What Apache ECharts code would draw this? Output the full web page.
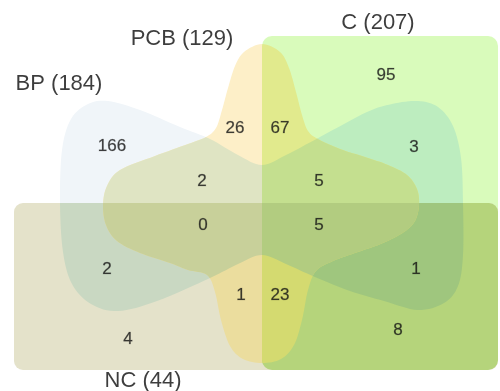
<!DOCTYPE html>
<html>
<head>
<meta charset="utf-8">
<script src="https://cdn.jsdelivr.net/npm/echarts@6/dist/echarts.min.js"></script>
<style>
  html, body { margin: 0; padding: 0; background: #ffffff; }
  #chart { width: 500px; height: 391px; }
</style>
</head>
<body>
<div id="chart"></div>
<script>
// Sets and their sizes
const setNames = ['BP', 'PCB', 'C', 'NC'];
const setTotals = [184, 129, 207, 44];

// Exclusive region counts, keyed by the sets a region belongs to
// (ordered singles -> pairs -> triples -> all four)
const regionKeys = ['BP', 'PCB', 'C', 'NC',
  'BP&PCB', 'BP&C', 'BP&NC', 'PCB&C', 'PCB&NC', 'C&NC',
  'BP&PCB&C', 'BP&PCB&NC', 'BP&C&NC', 'PCB&C&NC', 'BP&PCB&C&NC'];
const regionCounts = [166, 26, 95, 4, 2, 3, 2, 67, 1, 8, 5, 0, 1, 23, 5];

// ---- diagram layout (units of the hidden 500 x 391 axes) ----
const layout = {
  rects: {
    C:  { x0: 262, y0: 36,  x1: 498, y1: 370, r: 10 },
    NC: { x0: 14,  y0: 203, x1: 498, y1: 370, r: 9 }
  },
  // horizontal two-lobed outline
  BP: [[262,165],[238,155],[210,139],[180,127],[140,110],[108,101],[88,104],[71,119],[62,150],[60,203],
       [63,252],[72,284],[91,304],[118,311],[157,301],[210,278],[238,264],[262,255],[286,264],
       [315,277],[350,291],[384,301],[418,310],[444,303],[458,286],[463,255],[463,203],[461,158],
       [453,126],[438,107],[418,101],[392,104],[367,112],[320,137],[286,155]],
  // four-armed outline
  PCB: [[262,44],[280,52],[289,68],[296,92],[302,115],[308,131],[318,139],[340,149],[365,157],[388,165],
        [407,175],[417,189],[419,205],[415,221],[404,232],[383,243],[358,252],[333,261],[316,271],
        [308,290],[302,320],[294,345],[281,359],[262,363],[243,359],[230,346],[221,320],[215,292],
        [207,275],[188,270],[170,263],[140,253],[117,241],[106,225],[103,205],[107,186],[120,170],
        [155,156],[188,144],[206,137],[216,128],[222,110],[228,88],[235,66],[244,52]],
  labels: {
    'BP': [112,146], 'PCB': [235,128], 'C': [386,75], 'NC': [128,339],
    'BP&PCB': [202,181], 'BP&C': [414,147], 'BP&NC': [107,269], 'PCB&C': [280,128],
    'PCB&NC': [241,295], 'C&NC': [398,330], 'BP&PCB&C': [319,181], 'BP&PCB&NC': [203,225],
    'BP&C&NC': [416,269], 'PCB&C&NC': [280,295], 'BP&PCB&C&NC': [319,225]
  },
  titles: { BP: [59,84], PCB: [182,39], C: [378,23], NC: [143,381] }
};

// fill colour of every exclusive region
const regionFills = {
  'BP': '#f0f5f9', 'PCB': '#fdefc8', 'C': '#d9fbbb', 'NC': '#e4e2ca',
  'BP&PCB': '#dfe4c3', 'BP&C': '#bdedbf', 'BP&NC': '#c9d8c2', 'PCB&C': '#e1ea8d',
  'PCB&NC': '#ebdd9e', 'C&NC': '#b5d47b', 'BP&PCB&C': '#c4df8f', 'BP&PCB&NC': '#c8d09a',
  'BP&C&NC': '#9fc67e', 'PCB&C&NC': '#d4da70', 'BP&PCB&C&NC': '#b2cc80'
};

// closed Catmull-Rom spline through pixel points
function smoothClosed(pts, steps) {
  const out = [];
  const n = pts.length;
  for (let i = 0; i < n; i++) {
    const p0 = pts[(i - 1 + n) % n], p1 = pts[i], p2 = pts[(i + 1) % n], p3 = pts[(i + 2) % n];
    for (let s = 0; s < steps; s++) {
      const t = s / steps, t2 = t * t, t3 = t2 * t;
      const f = (a, b, c, d) => 0.5 * ((2 * b) + (-a + c) * t + (2 * a - 5 * b + 4 * c - d) * t2 + (-a + 3 * b - 3 * c + d) * t3);
      out.push([f(p0[0], p1[0], p2[0], p3[0]), f(p0[1], p1[1], p2[1], p3[1])]);
    }
  }
  return out;
}

// outline element of one set, in pixels
function setShape(name, api) {
  if (layout.rects[name]) {
    const r = layout.rects[name];
    const a = api.coord([r.x0, r.y0]);
    const b = api.coord([r.x1, r.y1]);
    return { type: 'rect', shape: { x: a[0], y: a[1], width: b[0] - a[0], height: b[1] - a[1], r: r.r } };
  }
  const pix = layout[name].map(p => api.coord(p));
  return { type: 'polygon', shape: { points: smoothClosed(pix, 8) } };
}

// each region: first member's outline, clipped by the other members' outlines;
// later (more specific) regions paint over earlier ones
function renderRegion(params, api) {
  const key = regionKeys[api.value(0)];
  const members = key.split('&');
  let el = setShape(members[0], api);
  el.style = { fill: regionFills[key] };
  for (let k = 1; k < members.length; k++) {
    el = { type: 'group', children: [el], clipPath: setShape(members[k], api) };
  }
  return el;
}

const countData = regionKeys.map((k, i) => [layout.labels[k][0], layout.labels[k][1], regionCounts[i]]);
const titleData = setNames.map((s, i) => [layout.titles[s][0], layout.titles[s][1], s + ' (' + setTotals[i] + ')']);

const hidden = 'rgba(0,0,0,0)';
const chart = echarts.init(document.getElementById('chart'), null, { renderer: 'canvas' });
chart.setOption({
  animation: false,
  backgroundColor: '#ffffff',
  grid: { left: 0, right: 0, top: 0, bottom: 0 },
  xAxis: { type: 'value', min: 0, max: 500, show: false },
  yAxis: { type: 'value', min: 0, max: 391, inverse: true, show: false },
  series: [
    {
      type: 'custom',
      silent: true,
      renderItem: renderRegion,
      data: regionKeys.map((k, i) => [i]),
      encode: { x: -1, y: -1 },
      clip: false
    },
    {
      type: 'scatter',
      silent: true,
      symbolSize: 1,
      itemStyle: { color: hidden },
      data: countData,
      label: {
        show: true, position: 'inside',
        formatter: p => String(p.value[2]),
        fontFamily: 'Liberation Sans, Arial, sans-serif', fontSize: 17, color: '#111111',
        textBorderColor: 'rgba(17,17,17,0.35)', textBorderWidth: 0.6
      }
    },
    {
      type: 'scatter',
      silent: true,
      symbolSize: 1,
      itemStyle: { color: hidden },
      data: titleData,
      label: {
        show: true, position: 'inside',
        formatter: p => p.value[2],
        fontFamily: 'Liberation Sans, Arial, sans-serif', fontSize: 22, color: '#0d0d0d'
      }
    }
  ]
});
</script>
</body>
</html>
